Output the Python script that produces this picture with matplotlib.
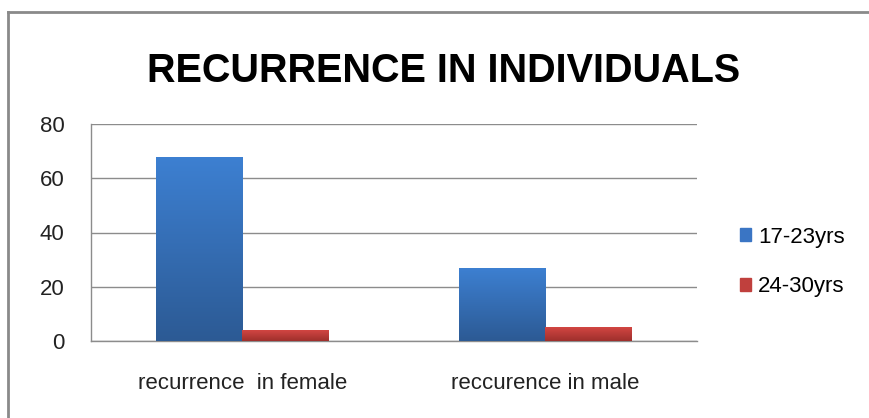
import numpy as np
import matplotlib
matplotlib.use("Agg")
import matplotlib.pyplot as plt
from matplotlib import font_manager
from matplotlib.colors import LinearSegmentedColormap
from matplotlib.lines import Line2D

categories = ["recurrence  in female", "reccurence in male"]
series_names = ["17-23yrs", "24-30yrs"]
values_17_23 = [68, 27]
values_24_30 = [4, 5]
yticks = [0, 20, 40, 60, 80]
title = "RECURRENCE IN INDIVIDUALS"

names = {f.name for f in font_manager.fontManager.ttflist}
narrow = "Liberation Sans Narrow" if "Liberation Sans Narrow" in names else "Liberation Sans"

fig = plt.figure(figsize=(8.7, 4.18), dpi=100)
ax = fig.add_axes([91/870, 1-341/418, (697-91)/870, (341-124)/418])

x = np.arange(len(categories))
w = 0.287
b1 = ax.bar(x - w/2, values_17_23, w, color="#3A75C4", label=series_names[0], zorder=3)
b2 = ax.bar(x + w/2, values_24_30, w, color="#C0403D", label=series_names[1], zorder=3)

cm_blue = LinearSegmentedColormap.from_list("b", ["#2C5A94", "#3D80D2"])
cm_red = LinearSegmentedColormap.from_list("r", ["#9E2F2C", "#D24642"])
grad = np.linspace(0, 1, 256).reshape(-1, 1)
for bars, cm in ((b1, cm_blue), (b2, cm_red)):
    for p in bars:
        x0, y0 = p.get_x(), p.get_y()
        im = ax.imshow(grad, cmap=cm, origin="lower", aspect="auto",
                       extent=[x0, x0 + p.get_width(), y0, y0 + p.get_height()], zorder=3)
        im.set_clip_path(p)

ax.set_xlim(-0.5, 1.5)
ax.set_ylim(0, 80)
ax.set_yticks(yticks)
ax.set_xticks(x)
ax.set_xticklabels(categories, fontsize=16, family=narrow)
ax.tick_params(axis="x", length=0, pad=23, colors="#222222")
ax.tick_params(axis="y", length=0, pad=19, labelsize=16, colors="#222222")
for lab in ax.get_yticklabels():
    lab.set_family(narrow)
ax.grid(axis="y", color="#8c8c8c", linewidth=1, zorder=0)
for s in ["top", "right"]:
    ax.spines[s].set_visible(False)
for s in ["left", "bottom"]:
    ax.spines[s].set_color("#8c8c8c")
    ax.spines[s].set_linewidth(1)

fig.text(444/870, 1-82/418, title, ha="center", va="baseline",
         fontsize=28.5, fontweight="bold", family=narrow, color="black")

leg = fig.legend(handles=[b1, b2], loc="center left",
                 bbox_to_anchor=(720/870, 1-262/418), frameon=False,
                 prop={"family": narrow, "size": 16},
                 handlelength=0.5, handleheight=0.5, handletextpad=0.3,
                 labelspacing=1.3)
leg.legend_handles[0].set_color("#3A75C4")
leg.legend_handles[1].set_color("#C0403D")

fig.add_artist(Line2D([8/870, 8/870], [0, 1-12/418], color="#8a8a8a", linewidth=2, transform=fig.transFigure))
fig.add_artist(Line2D([8/870, 1], [1-12/418, 1-12/418], color="#8a8a8a", linewidth=2, transform=fig.transFigure))

fig.savefig("out.png", dpi=100, facecolor="white")
